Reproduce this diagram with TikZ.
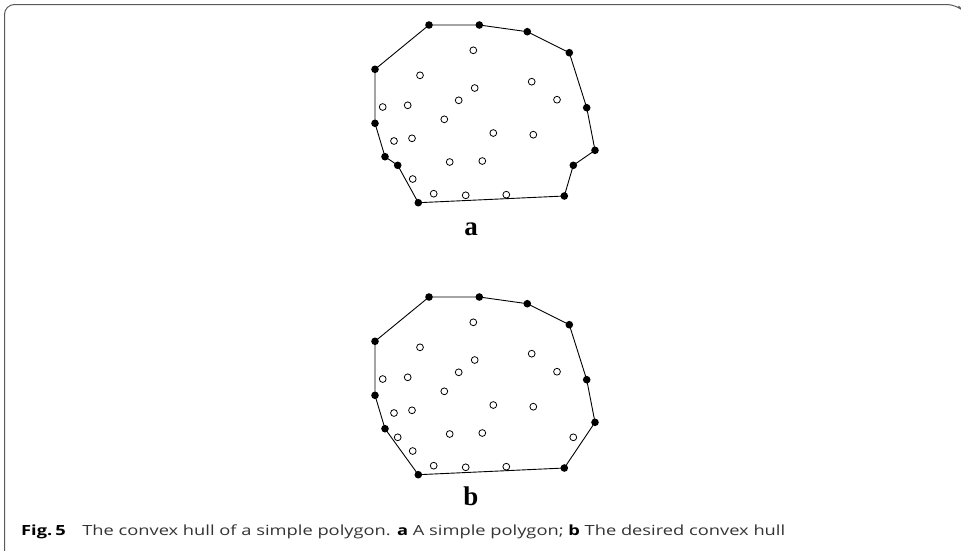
\documentclass[tikz,border=0pt]{standalone}
\usepackage{fontspec}
\usepackage{graphicx}
\setmainfont{Liberation Serif}
\newfontfamily\capfont{Open Sans}
\definecolor{captext}{HTML}{333333}
\definecolor{framegray}{HTML}{5A5A5A}
\begin{document}
\begin{tikzpicture}[x=1pt,y=-1pt,
  hullpt/.style={circle,fill=black,inner sep=0pt,minimum size=7.6pt},
  innerpt/.style={circle,draw=black,fill=white,line width=0.8pt,inner sep=0pt,minimum size=6.8pt},
  hulledge/.style={line width=0.9pt},
  panellabel/.style={font=\bfseries\fontsize{27}{27}\selectfont,anchor=base,inner sep=0pt},
  captionstyle/.style={font=\capfont\fontsize{14}{17}\selectfont,text=captext,anchor=base west,inner sep=0pt},
  boxframe/.style={draw=framegray,line width=1pt,rounded corners=10pt}]
\useasboundingbox (0,0) rectangle (961,550);

% figure frame (open at bottom and right)
\draw[boxframe] (4.5,551) -- (4.5,4.5) -- (957,4.5) -- (958.5,6);

% interior points shared by both panels
\newcommand{\innerpoints}[1]{%
  \foreach \x/\y [count=\i] in {473.3/50.3, 420/75.3, 531.7/81.7, 474.7/88, 557/99.7,
      382.7/107, 407.7/105.3, 458.7/100.3, 444.3/119.3, 493.3/133, 533.3/134.7,
      394/141, 412/138.3, 449.7/162, 482.3/161, 412.7/179, 433.7/193.7,
      465.7/195.3, 506.3/194.7}
    {\node[innerpt] (#1p\i) at (\x,\y) {};}}

% ---- panel a: a simple polygon ----
\foreach \x/\y [count=\i] in {429/25, 479.3/25, 527.3/31.7, 569.3/52.7, 586.7/107.7,
    595/150.3, 573.3/165.3, 564.3/196, 418.3/202.7, 397.7/165.3, 385/156.7,
    375/123.3, 375/69.3}
  {\coordinate (A\i) at (\x,\y);}
\draw[hulledge] (A1) -- (A2) -- (A3) -- (A4) -- (A5) -- (A6) -- (A7) -- (A8)
  -- (A9) -- (A10) -- (A11) -- (A12) -- (A13) -- cycle;
\innerpoints{a}
\foreach \i in {1,...,13} {\node[hullpt] (Adot\i) at (A\i) {};}
\node[panellabel] (labela) at (471,235.5) {a};

% ---- panel b: the desired convex hull ----
\begin{scope}[shift={(0,272)}]
\foreach \x/\y [count=\i] in {429/25, 479.3/25, 527.3/31.7, 569.3/52.7, 586.7/107.7,
    595/150.3, 564.3/196, 418.3/202.7, 385/156.7, 375/123.3, 375/69.3}
  {\coordinate (B\i) at (\x,\y);}
\draw[hulledge] (B1) -- (B2) -- (B3) -- (B4) -- (B5) -- (B6) -- (B7) -- (B8)
  -- (B9) -- (B10) -- (B11) -- cycle;
\innerpoints{b}
\node[innerpt] (bq1) at (573.3,165.3) {};
\node[innerpt] (bq2) at (397.7,165.3) {};
\foreach \i in {1,...,11} {\node[hullpt] (Bdot\i) at (B\i) {};}
\node[panellabel] (labelb) at (471,233.5) {b};
\end{scope}

% caption, stretched to its column width
\node[captionstyle] (caption) at (21,535.7)
  {\resizebox{764pt}{\height}{{\bfseries\color{black}Fig.\,5}\hspace{0.9em}The convex hull of a simple polygon.
   {\bfseries\color{black}a} A simple polygon; {\bfseries\color{black}b} The desired convex hull}};
\end{tikzpicture}
\end{document}
